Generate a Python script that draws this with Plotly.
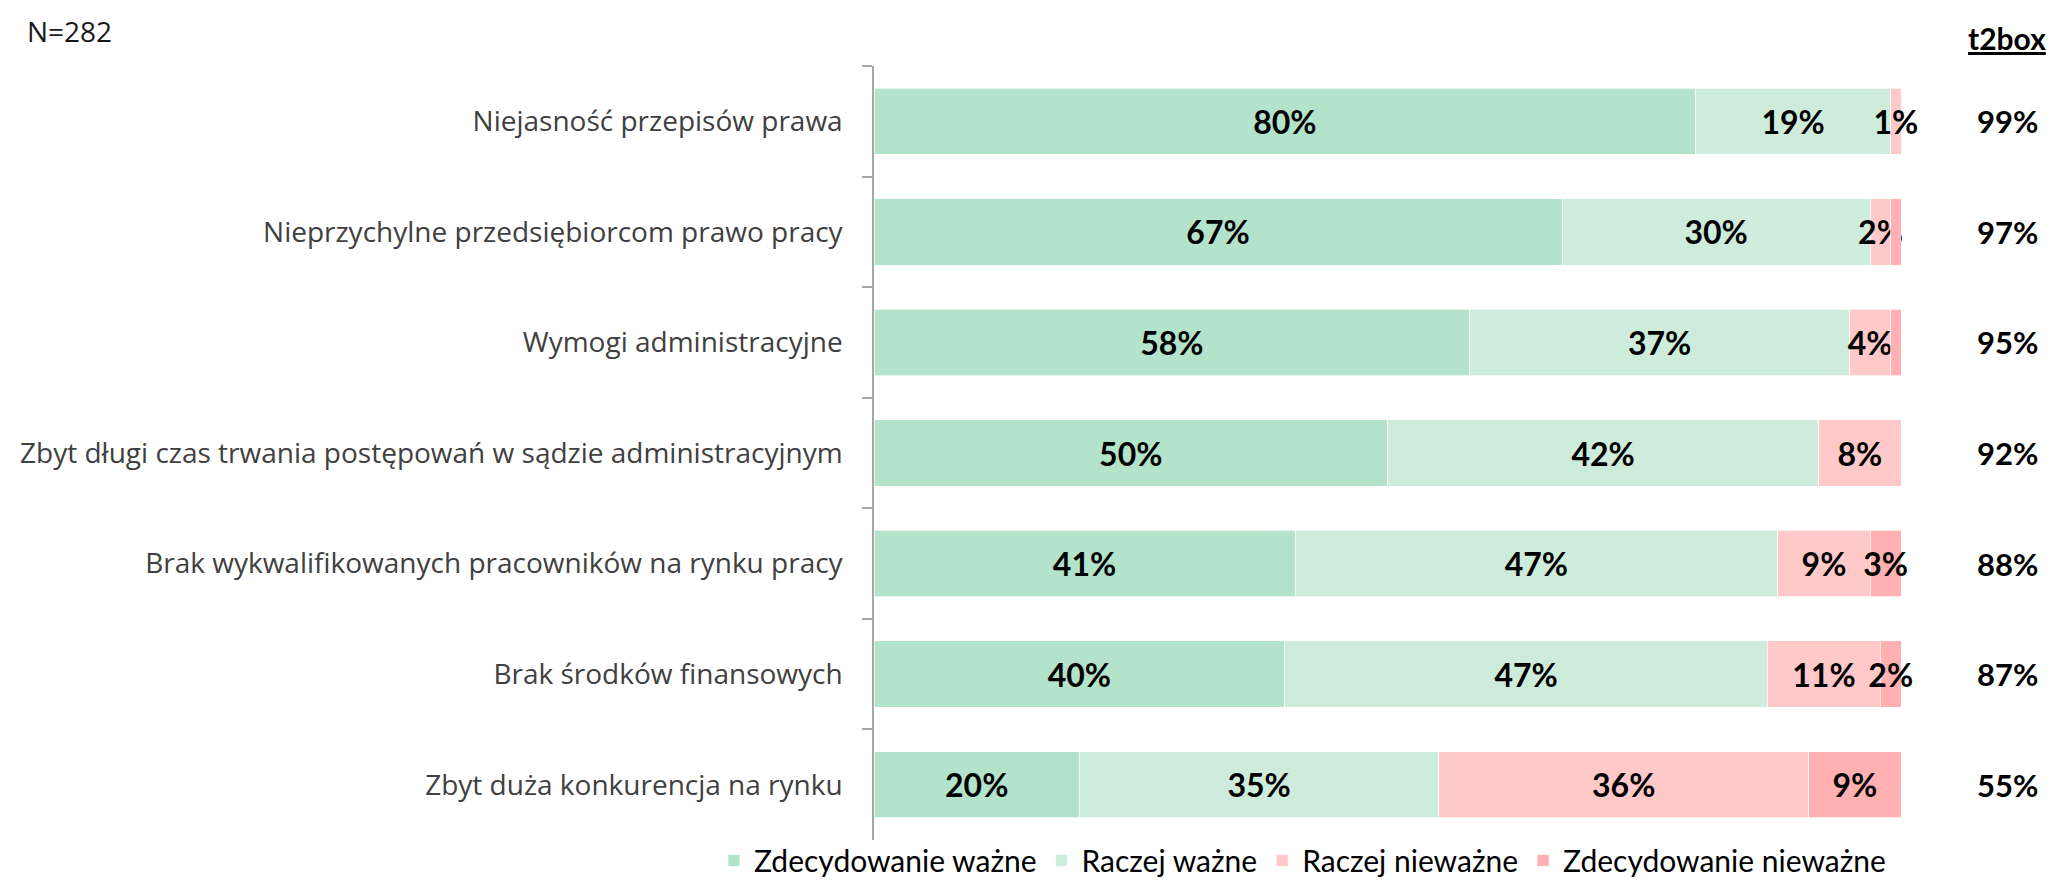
import plotly.graph_objects as go

categories = [
    "Niejasność przepisów prawa",
    "Nieprzychylne przedsiębiorcom prawo pracy",
    "Wymogi administracyjne",
    "Zbyt długi czas trwania postępowań w sądzie administracyjnym",
    "Brak wykwalifikowanych pracowników na rynku pracy",
    "Brak środków finansowych",
    "Zbyt duża konkurencja na rynku",
]
series_names = ["Zdecydowanie ważne", "Raczej ważne", "Raczej nieważne", "Zdecydowanie nieważne"]
zdecydowanie_wazne = [80, 67, 58, 50, 41, 40, 20]
raczej_wazne = [19, 30, 37, 42, 47, 47, 35]
raczej_niewazne = [1, 2, 4, 8, 9, 11, 36]
zdecydowanie_niewazne = [0, 1, 1, 0, 3, 2, 9]
t2box = [99, 97, 95, 92, 88, 87, 55]
colors = ["#b3e3cb", "#cdecdc", "#ffc9c9", "#ffb0b0"]
# minimum value for which a bar label is displayed, per series
label_min = [1, 1, 1, 2]

all_series = [zdecydowanie_wazne, raczej_wazne, raczej_niewazne, zdecydowanie_niewazne]

W, H = 2057, 891
ml, mr, mt, mb = 860, 164, 58, 42
ph = H - mt - mb
pw = W - ml - mr

fig = go.Figure()
for name, vals, col, lm in zip(series_names, all_series, colors, label_min):
    fig.add_trace(go.Bar(
        y=categories, x=vals, name=name, orientation="h",
        marker=dict(color=col, line=dict(color="rgba(255,255,255,0.7)", width=1)),
        text=[f"<b>{v}%</b>" if v >= lm else "" for v in vals],
        textposition="inside", insidetextanchor="middle", textangle=0,
        insidetextfont=dict(family="Lato", size=32, color="#000000"),
        cliponaxis=False,
        hoverinfo="skip",
    ))

t2x = 1 + (2000 - (W - mr)) / pw
for cat, v in zip(categories, t2box):
    fig.add_annotation(x=t2x, y=cat, xref="paper", yref="y", text=f"<b>{v}%</b>",
                       showarrow=False, xanchor="center", yanchor="middle",
                       font=dict(family="Lato", size=31, color="#000000"))

fig.add_annotation(x=t2x, y=1 + (mt - 29) / ph, xref="paper", yref="paper", yanchor="middle",
                   text="<b><u>t2box</u></b>", showarrow=False, xanchor="center",
                   font=dict(family="Lato", size=30, color="#000000"))
fig.add_annotation(x=(6 - ml) / pw, y=1 + (mt - 22) / ph, xref="paper", yref="paper",
                   text="N=282", showarrow=False, xanchor="left", yanchor="middle",
                   font=dict(family="Open Sans", size=28, color="#1a1a1a"))

fig.update_layout(
    barmode="stack", bargap=0.40,
    width=W, height=H,
    margin=dict(l=ml, r=mr, t=mt, b=mb, pad=0),
    plot_bgcolor="white", paper_bgcolor="white",
    uniformtext=dict(minsize=32, mode="show"),
    showlegend=True,
    legend=dict(orientation="h", xref="paper", yref="paper",
                x=(699 - ml) / pw, xanchor="left", y=-(870 - (H - mb)) / ph,
                yanchor="middle", traceorder="normal",
                font=dict(family="Lato", size=30, color="#000000"),
                itemwidth=30, bgcolor="rgba(0,0,0,0)"),
    xaxis=dict(range=[0, 100], visible=False, fixedrange=True),
    yaxis=dict(categoryorder="array", categoryarray=categories, autorange="reversed",
               showline=True, linecolor="#a6a6a6", linewidth=1.5,
               ticks="outside", tickson="boundaries", ticklen=10, tickcolor="#a6a6a6",
               tickwidth=1.5, showgrid=False, ticklabelstandoff=24,
               tickfont=dict(family="Open Sans", size=28, color="#404040")),
)

fig.write_html("out.html")
